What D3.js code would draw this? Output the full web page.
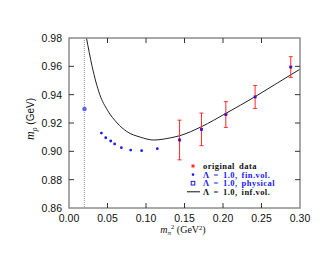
<!DOCTYPE html>
<html>
<head>
<meta charset="utf-8">
<script src="https://cdn.jsdelivr.net/npm/d3@7"></script>
<style>
  body { margin: 0; background: #fff; }
  svg { display: block; }
</style>
</head>
<body>
<div id="chart"></div>
<script>
// data
const xTicks = [0.00, 0.05, 0.10, 0.15, 0.20, 0.25, 0.30];
const yTicks = [0.86, 0.88, 0.90, 0.92, 0.94, 0.96, 0.98];

const origX = [0.1436, 0.172, 0.2037, 0.2417, 0.288];
const origY = [0.908, 0.9155, 0.926, 0.9384, 0.9595];
const origErr = [0.014, 0.0115, 0.0091, 0.0081, 0.0073];

const finX = [0.0421, 0.0477, 0.0542, 0.0593, 0.068, 0.0801, 0.0943, 0.1147, 0.1436, 0.172, 0.2037, 0.2417, 0.288];
const finY = [0.9129, 0.9096, 0.9073, 0.9052, 0.9026, 0.9009, 0.9005, 0.9019, 0.908, 0.9155, 0.926, 0.9384, 0.9595];

const physX = [0.0201];
const physY = [0.9299];

const infX = [0.0227, 0.030, 0.040, 0.050, 0.0625, 0.075, 0.0927, 0.110, 0.1315, 0.1436, 0.172, 0.2037, 0.2417, 0.270, 0.30];
const infY = [0.980, 0.960, 0.940, 0.929, 0.920, 0.914, 0.910, 0.908, 0.9095, 0.911, 0.9174, 0.9268, 0.9386, 0.948, 0.958];

const physLineX = 0.02;

const width = 332;
const height = 257;
const margin = { left: 69, top: 38, right: 32, bottom: 49 };

const svg = d3.select("#chart").append("svg")
    .attr("width", width)
    .attr("height", height);

const x = d3.scaleLinear().domain([0, 0.30]).range([margin.left, width - margin.right]);
const y = d3.scaleLinear().domain([0.86, 0.98]).range([height - margin.bottom, margin.top]);

const axisColor = "#8c8c8c";
const blue = "#1a1aff";
const red = "#ff2a2a";

// clip for curve
svg.append("clipPath").attr("id", "plotClip")
    .append("rect")
    .attr("x", x(0)).attr("y", y(0.98))
    .attr("width", x(0.30) - x(0)).attr("height", y(0.86) - y(0.98));

// dotted line at physical point
svg.append("line")
    .attr("x1", x(physLineX)).attr("x2", x(physLineX))
    .attr("y1", y(0.98)).attr("y2", y(0.86))
    .attr("stroke", "#999")
    .attr("stroke-width", 1)
    .attr("stroke-dasharray", "1,1");

// inf.vol. curve
const line = d3.line()
    .x(d => x(d[0]))
    .y(d => y(d[1]))
    .curve(d3.curveMonotoneX);

svg.append("path")
    .datum(infX.map((v, i) => [v, infY[i]]))
    .attr("clip-path", "url(#plotClip)")
    .attr("fill", "none")
    .attr("stroke", "#222")
    .attr("stroke-width", 1)
    .attr("d", line);

// error bars for original data
const orig = origX.map((v, i) => ({ x: v, y: origY[i], e: origErr[i] }));
const eb = svg.selectAll(".errBar").data(orig).enter().append("g")
    .attr("class", "errBar")
    .attr("stroke", red)
    .attr("stroke-width", 1);
eb.append("line")
    .attr("x1", d => x(d.x)).attr("x2", d => x(d.x))
    .attr("y1", d => y(d.y - d.e)).attr("y2", d => y(d.y + d.e));
eb.append("line")
    .attr("x1", d => x(d.x) - 2).attr("x2", d => x(d.x) + 2)
    .attr("y1", d => y(d.y + d.e)).attr("y2", d => y(d.y + d.e));
eb.append("line")
    .attr("x1", d => x(d.x) - 2).attr("x2", d => x(d.x) + 2)
    .attr("y1", d => y(d.y - d.e)).attr("y2", d => y(d.y - d.e));
svg.selectAll(".origPt").data(orig).enter().append("rect")
    .attr("class", "origPt")
    .attr("x", d => x(d.x) - 1.5).attr("y", d => y(d.y) - 1.5)
    .attr("width", 3).attr("height", 3)
    .attr("fill", red);

// fin.vol. points
svg.selectAll(".finPt").data(finX.map((v, i) => [v, finY[i]])).enter().append("circle")
    .attr("class", "finPt")
    .attr("cx", d => x(d[0])).attr("cy", d => y(d[1]))
    .attr("r", 1.4)
    .attr("fill", blue);

// physical point
svg.selectAll(".physPt").data(physX.map((v, i) => [v, physY[i]])).enter().append("circle")
    .attr("class", "physPt")
    .attr("cx", d => x(d[0])).attr("cy", d => y(d[1]))
    .attr("r", 2.2)
    .attr("fill", "#6060ff");

// frame
svg.append("rect")
    .attr("x", x(0)).attr("y", y(0.98))
    .attr("width", x(0.30) - x(0)).attr("height", y(0.86) - y(0.98))
    .attr("fill", "none")
    .attr("stroke", axisColor)
    .attr("stroke-width", 1.5);

// ticks, all pointing inward
const tickLen = 5;
const xInner = xTicks.slice(1, -1);
const yInner = yTicks.slice(1, -1);
const ticks = svg.append("g").attr("stroke", "#333").attr("stroke-width", 1);
xInner.forEach(t => {
    ticks.append("line").attr("x1", x(t)).attr("x2", x(t))
        .attr("y1", y(0.86)).attr("y2", y(0.86) - tickLen);
    ticks.append("line").attr("x1", x(t)).attr("x2", x(t))
        .attr("y1", y(0.98)).attr("y2", y(0.98) + tickLen);
});
yInner.forEach(t => {
    ticks.append("line").attr("x1", x(0)).attr("x2", x(0) + tickLen)
        .attr("y1", y(t)).attr("y2", y(t));
    ticks.append("line").attr("x1", x(0.30)).attr("x2", x(0.30) - tickLen)
        .attr("y1", y(t)).attr("y2", y(t));
});

// tick labels
const fmt = d3.format(".2f");
svg.selectAll(".xLab").data(xTicks).enter().append("text")
    .attr("class", "xLab")
    .attr("x", d => x(d)).attr("y", y(0.86) + 14)
    .attr("text-anchor", "middle")
    .attr("font-family", "Liberation Sans, Arial, sans-serif")
    .attr("font-size", 10.5)
    .attr("fill", "#111")
    .text(d => fmt(d));
svg.selectAll(".yLab").data(yTicks).enter().append("text")
    .attr("class", "yLab")
    .attr("x", x(0) - 7).attr("y", d => y(d) + 4)
    .attr("text-anchor", "end")
    .attr("font-family", "Liberation Sans, Arial, sans-serif")
    .attr("font-size", 10.5)
    .attr("fill", "#111")
    .text(d => fmt(d));

// axis titles
const xt = svg.append("text")
    .attr("x", 183).attr("y", 233)
    .attr("text-anchor", "middle")
    .attr("font-family", "Liberation Serif, serif")
    .attr("font-size", 10)
    .attr("fill", "#111");
xt.append("tspan").attr("font-style", "italic").text("m");
xt.append("tspan").attr("font-style", "italic").attr("font-size", 7).attr("dy", 2).text("π");
xt.append("tspan").attr("font-size", 6.5).attr("dy", -6).text("2");
xt.append("tspan").attr("dy", 4).text(" (GeV");
xt.append("tspan").attr("font-size", 6.5).attr("dy", -3.5).text("2");
xt.append("tspan").attr("dy", 3.5).text(")");

const yt = svg.append("text")
    .attr("transform", "translate(34,119) rotate(-90)")
    .attr("text-anchor", "middle")
    .attr("font-family", "Liberation Sans, Arial, sans-serif")
    .attr("font-size", 10)
    .attr("fill", "#111");
yt.append("tspan").attr("font-family", "Liberation Serif, serif").attr("font-style", "italic").attr("font-size", 12).text("m");
yt.append("tspan").attr("font-family", "Liberation Serif, serif").attr("font-style", "italic").attr("font-size", 8).attr("dy", 2.5).text("ρ");
yt.append("tspan").attr("dy", -2.5).text(" (GeV)");

// legend
const legendItems = [
    { label: "original data", color: "#111", mark: "orig" },
    { label: "Λ = 1.0, fin.vol.", color: blue, mark: "fin" },
    { label: "Λ = 1.0, physical", color: blue, mark: "phys" },
    { label: "Λ = 1.0, inf.vol.", color: "#111", mark: "line" }
];
const lg = svg.selectAll(".legendItem").data(legendItems).enter().append("g")
    .attr("class", "legendItem")
    .attr("transform", (d, i) => `translate(193, ${166 + i * 8.6})`);
lg.append("text")
    .attr("x", 10).attr("y", 3)
    .attr("font-family", "Liberation Serif, serif")
    .attr("font-weight", "bold")
    .attr("font-size", 8.5)
    .attr("letter-spacing", 0.45)
    .attr("word-spacing", 1.5)
    .attr("fill", d => d.color)
    .text(d => d.label);
lg.filter(d => d.mark === "orig").append("rect")
    .attr("x", -1.5).attr("y", -1.5).attr("width", 3).attr("height", 3).attr("fill", red);
lg.filter(d => d.mark === "fin").append("circle")
    .attr("r", 1.3).attr("fill", blue);
lg.filter(d => d.mark === "phys").append("rect")
    .attr("x", -1.8).attr("y", -1.8).attr("width", 3.6).attr("height", 3.6)
    .attr("fill", "none").attr("stroke", blue).attr("stroke-width", 1);
lg.filter(d => d.mark === "line").append("line")
    .attr("x1", -6).attr("x2", 7).attr("y1", 0).attr("y2", 0)
    .attr("stroke", "#111").attr("stroke-width", 1);
</script>
</body>
</html>
